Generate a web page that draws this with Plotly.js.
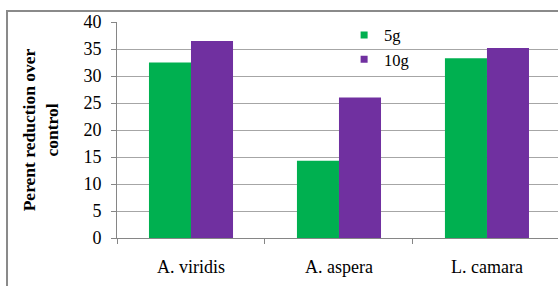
<!DOCTYPE html>
<html>
<head>
<meta charset="utf-8">
<script src="https://cdn.plot.ly/plotly-3.0.1.min.js"></script>
<style>html,body{margin:0;padding:0;background:#fff;}#chart{width:558px;height:286px;}
#chart svg text{font-family:'Liberation Serif','Times New Roman',serif !important;}</style>
</head>
<body>
<div id="chart"></div>
<script>
var categories = ["A. viridis", "A. aspera", "L. camara"];
var series5g = [32.5, 14.3, 33.3];
var series10g = [36.5, 26.0, 35.2];
var seriesNames = ["5g", "10g"];
var yTicks = [0, 5, 10, 15, 20, 25, 30, 35, 40];

var colors = ["#00B050", "#7030A0"];
var serif = "Liberation Serif";

var traces = [
  {type: "bar", x: categories, y: series5g, name: seriesNames[0], marker: {color: colors[0]}, showlegend: false, hoverinfo: "none"},
  {type: "bar", x: categories, y: series10g, name: seriesNames[1], marker: {color: colors[1]}, showlegend: false, hoverinfo: "none"},
  {type: "scatter", mode: "markers", x: [null], y: [null], name: seriesNames[0], marker: {symbol: "square", size: 7, color: colors[0]}},
  {type: "scatter", mode: "markers", x: [null], y: [null], name: seriesNames[1], marker: {symbol: "square", size: 7, color: colors[1]}}
];

var layout = {
  width: 558, height: 286,
  margin: {l: 117, r: 0, t: 22, b: 47.5, pad: 0},
  paper_bgcolor: "#fff", plot_bgcolor: "#fff",
  barmode: "group", bargap: 0.432, bargroupgap: 0,
  font: {family: serif, color: "#000", size: 17},
  xaxis: {
    type: "category", range: [-0.5, 2.48],
    tickson: "boundaries", ticks: "outside", ticklen: 5, tickcolor: "#868686",
    showline: true, linecolor: "#868686", linewidth: 1,
    showgrid: false, zeroline: false,
    tickfont: {family: serif, size: 18, color: "#000"},
    ticklabelstandoff: 12
  },
  yaxis: {
    range: [0, 40], tickvals: yTicks, ticktext: yTicks.map(String),
    ticks: "outside", ticklen: 5, tickcolor: "#868686",
    showline: true, linecolor: "#868686", linewidth: 1,
    showgrid: true, gridcolor: "#a6a6a6", gridwidth: 1, zeroline: false,
    tickfont: {family: serif, size: 18, color: "#000"},
    ticklabelstandoff: 6,
    title: {text: "<b>Perent reduction over<br>control</b>", font: {family: serif, size: 17.5, color: "#000"}, standoff: 20}
  },
  legend: {
    x: 0.515, y: 1.02, xanchor: "left", yanchor: "top",
    bgcolor: "rgba(0,0,0,0)", font: {family: serif, size: 16.5, color: "#000"},
    itemwidth: 30, tracegroupgap: 0
  },
  shapes: [{
    type: "rect", xref: "paper", yref: "paper",
    x0: -0.2494, x1: 1.2, y0: -0.5, y1: 1.0508,
    line: {color: "#8a8a8a", width: 2}, fillcolor: "rgba(0,0,0,0)", layer: "below"
  }]
};

Plotly.newPlot("chart", traces, layout, {displayModeBar: false, staticPlot: true});
</script>
</body>
</html>
